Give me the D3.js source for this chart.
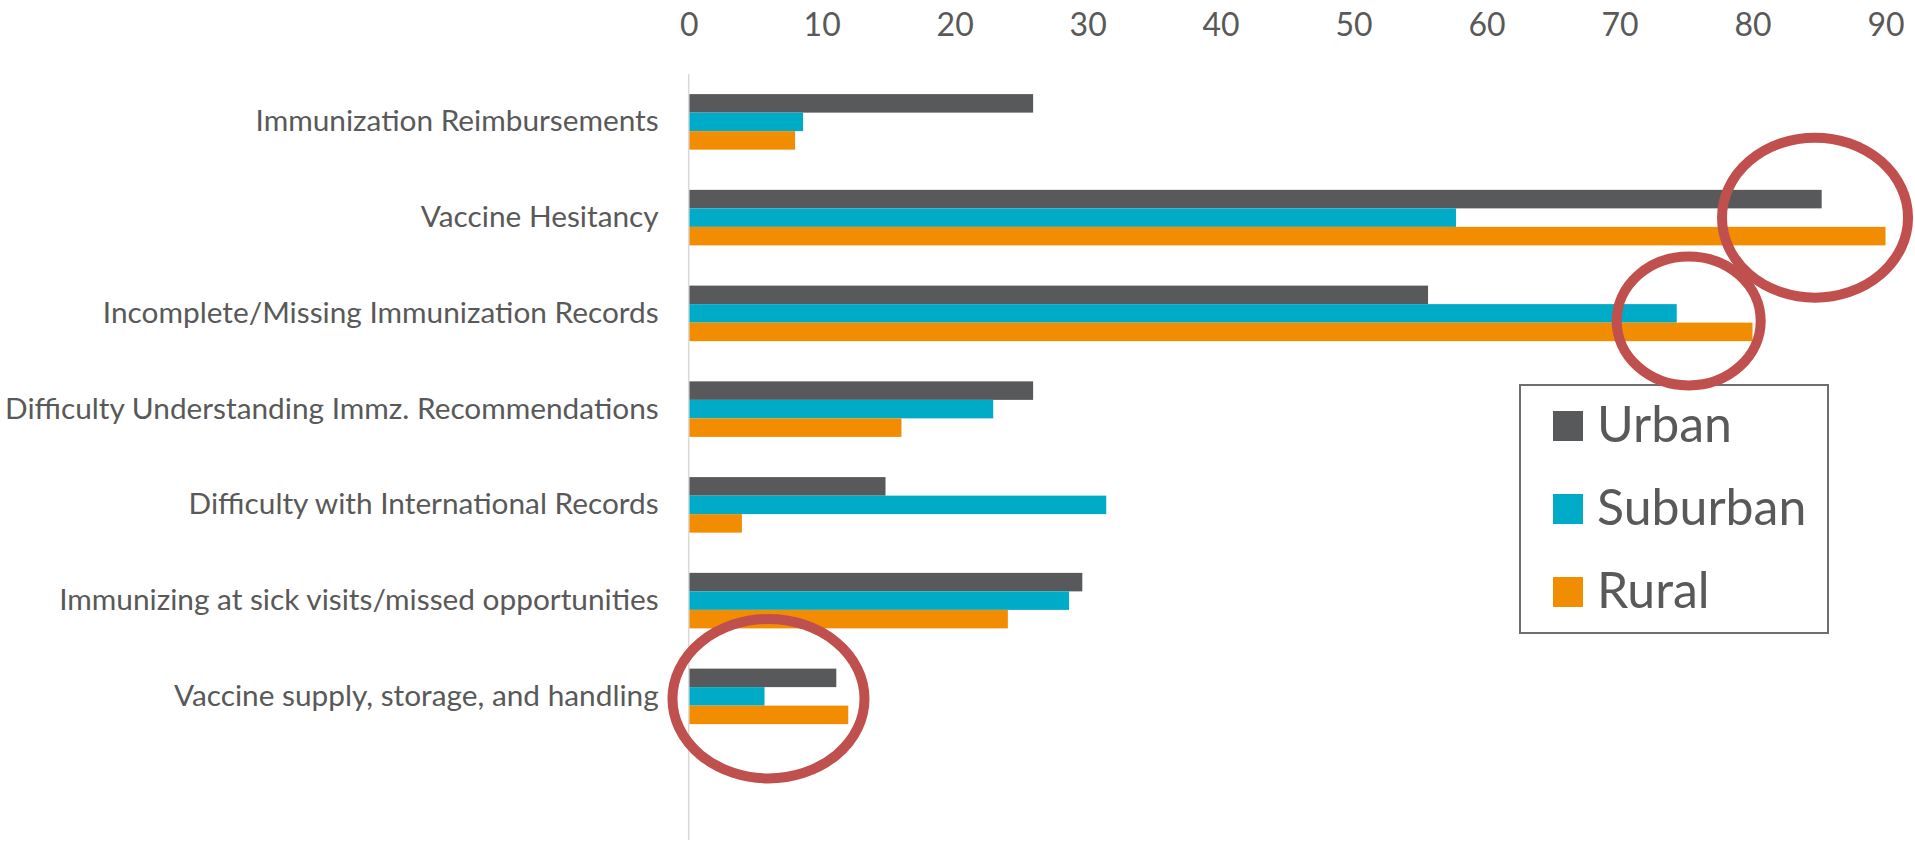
<!DOCTYPE html>
<html>
<head>
<meta charset="utf-8">
<script src="https://cdn.jsdelivr.net/npm/d3@7"></script>
<style>
  html, body { margin: 0; padding: 0; background: #fff; }
  svg { display: block; font-family: Lato, "Noto Sans", sans-serif; }
</style>
</head>
<body>
<svg id="chart" width="1915" height="845"></svg>
<script>
// ---- data ----
const categories = [
  "Immunization Reimbursements",
  "Vaccine Hesitancy",
  "Incomplete/Missing Immunization Records",
  "Difficulty Understanding Immz. Recommendations",
  "Difficulty with International Records",
  "Immunizing at sick visits/missed opportunities",
  "Vaccine supply, storage, and handling"
];
const seriesNames = ["Urban", "Suburban", "Rural"];
const urban    = [25.9, 85.2, 55.6, 25.9, 14.8, 29.6, 11.1];
const suburban = [8.6, 57.7, 74.3, 22.9, 31.4, 28.6, 5.7];
const rural    = [8, 90, 80, 16, 4, 24, 12];
const tickValues = [0, 10, 20, 30, 40, 50, 60, 70, 80, 90];
const seriesColors = ["#58595B", "#00ABC8", "#F28C00"];
// annotation ellipses: centre in data units (value, category) + pixel offset/radii
const annotations = [
  { category: "Vaccine Hesitancy", value: 84.7, dy: 0, rx: 93, ry: 80 },
  { category: "Incomplete/Missing Immunization Records", value: 75.2, dy: 7.6, rx: 72, ry: 64.5 },
  { category: "Vaccine supply, storage, and handling", value: 6.0, dy: 2.3, rx: 96, ry: 79.7 }
];

const seriesValues = [urban, suburban, rural];

// ---- layout ----
const svg = d3.select("#chart");
const plotLeft = 688.7, plotRight = 1885.5, plotTop = 74, plotBottom = 840;
const textColor = "#595959";

const x = d3.scaleLinear().domain([0, 90]).range([plotLeft, plotRight]);
const y0 = d3.scaleBand()
  .domain(categories.concat([""]))
  .range([plotTop, plotBottom])
  .paddingInner(0.42)
  .paddingOuter(0.21);
const y1 = d3.scaleBand().domain(seriesNames).range([0, y0.bandwidth()]);
const color = d3.scaleOrdinal().domain(seriesNames).range(seriesColors);

// axis line (category axis)
svg.append("line")
  .attr("x1", x(0)).attr("x2", x(0))
  .attr("y1", plotTop).attr("y2", plotBottom)
  .attr("stroke", "#D9D9D9").attr("stroke-width", 1.5);

// top value axis
const xAxis = d3.axisTop(x).tickValues(tickValues).tickSize(0).tickPadding(0)
  .tickFormat(d3.format("d"));
const gx = svg.append("g").attr("transform", "translate(0,36)").call(xAxis);
gx.select(".domain").remove();
gx.selectAll("text")
  .attr("fill", textColor)
  .style("font-size", "32px")
  .style("font-family", "Lato, 'Noto Sans', sans-serif");

// bars
const rows = categories.map((c, i) => ({
  category: c,
  values: seriesNames.map((s, k) => ({ series: s, value: seriesValues[k][i] }))
}));

const groups = svg.append("g").selectAll("g")
  .data(rows).join("g")
  .attr("transform", d => `translate(0,${y0(d.category)})`);

groups.selectAll("rect")
  .data(d => d.values).join("rect")
  .attr("x", x(0) + 0.75)
  .attr("y", d => y1(d.series))
  .attr("width", d => Math.max(0, x(d.value) - x(0) - 0.75))
  .attr("height", y1.bandwidth())
  .attr("fill", d => color(d.series));

// category labels
const yAxis = d3.axisLeft(y0).tickValues(categories).tickSize(0).tickPadding(30);
const gy = svg.append("g").attr("transform", `translate(${x(0)},0)`).call(yAxis);
gy.select(".domain").remove();
gy.selectAll("text")
  .attr("fill", textColor)
  .style("font-size", "29.8px")
  .style("font-family", "Lato, 'Noto Sans', sans-serif");

// legend
const legend = svg.append("g");
legend.append("rect")
  .attr("x", 1520).attr("y", 385).attr("width", 308).attr("height", 248)
  .attr("fill", "#fff").attr("stroke", "#6E6E6E").attr("stroke-width", 2);
const li = legend.selectAll("g.item").data(seriesNames).join("g")
  .attr("class", "item")
  .attr("transform", (d, i) => `translate(1553,${411 + i * 83})`);
li.append("rect").attr("width", 30).attr("height", 30).attr("fill", d => color(d));
li.append("text")
  .attr("x", 44).attr("y", 30.5)
  .attr("fill", textColor)
  .style("font-size", "50px")
  .text(d => d);

// annotation ellipses
svg.append("g").selectAll("ellipse")
  .data(annotations).join("ellipse")
  .attr("cx", d => x(d.value))
  .attr("cy", d => y0(d.category) + y0.bandwidth() / 2 + d.dy)
  .attr("rx", d => d.rx).attr("ry", d => d.ry)
  .attr("fill", "none")
  .attr("stroke", "#C0504D")
  .attr("stroke-width", 10);
</script>
</body>
</html>
